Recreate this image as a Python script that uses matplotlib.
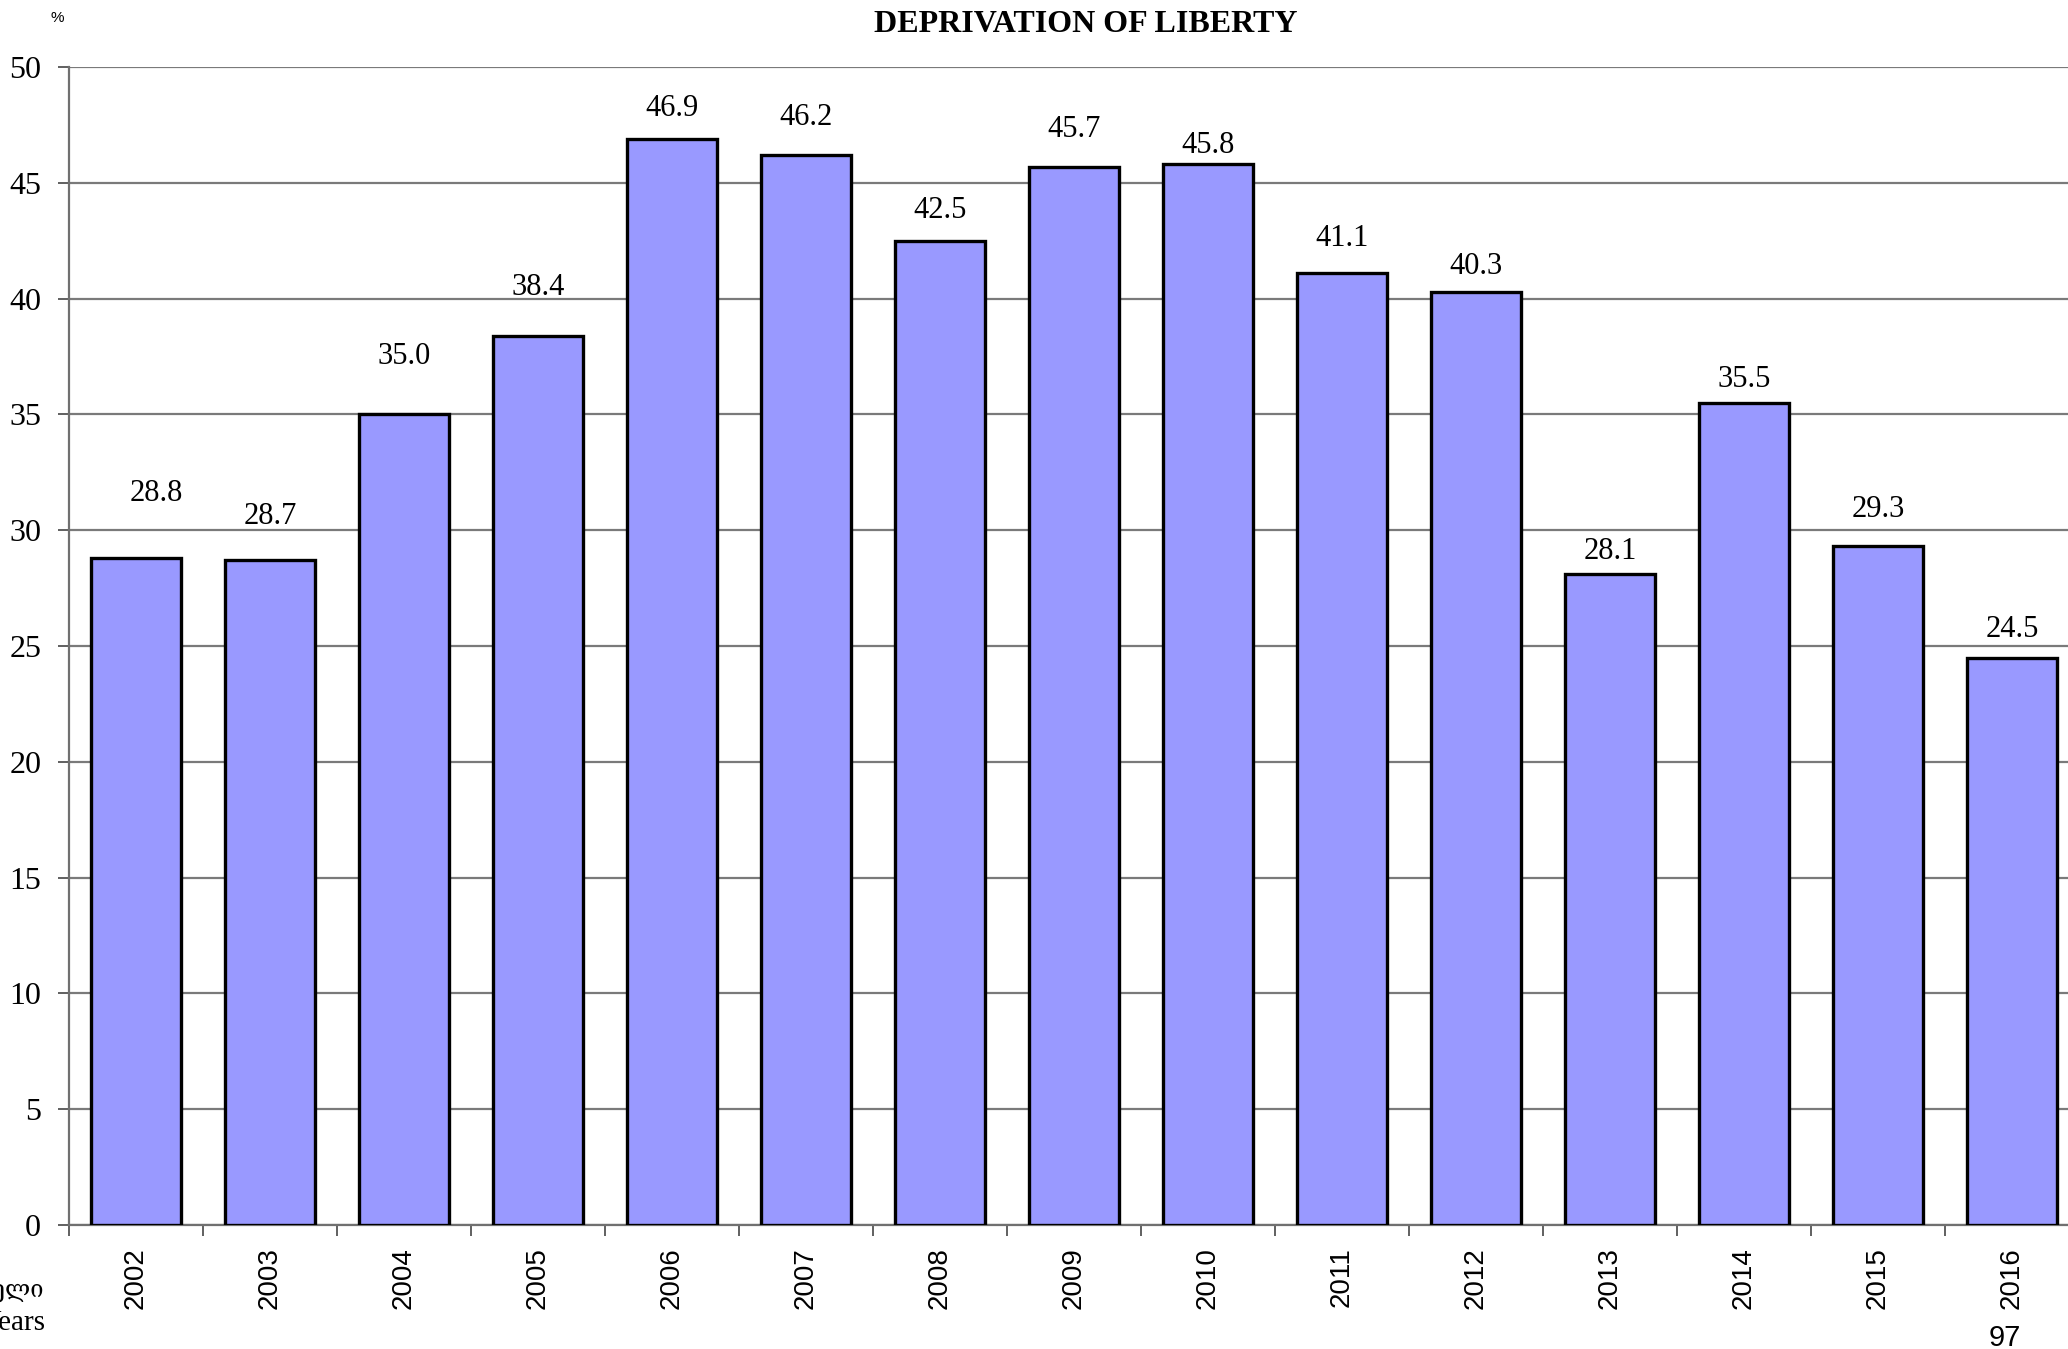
import matplotlib
matplotlib.use('Agg')
import matplotlib.pyplot as plt
import numpy as np

# data
years = ['2002', '2003', '2004', '2005', '2006', '2007', '2008', '2009',
         '2010', '2011', '2012', '2013', '2014', '2015', '2016']
share = [28.8, 28.7, 35.0, 38.4, 46.9, 46.2, 42.5, 45.7,
         45.8, 41.1, 40.3, 28.1, 35.5, 29.3, 24.5]
# gap between the bar top and its value label (percentage points)
label_gap = [2.8, 1.9, 2.5, 2.1, 1.3, 1.6, 1.3, 1.6,
             0.8, 1.5, 1.1, 1.0, 1.0, 1.6, 1.2]

W, H = 2068, 1349
fig = plt.figure(figsize=(W / 100, H / 100), dpi=100)
ax = fig.add_axes([69 / W, 124 / H, 2010 / W, 1158 / H])

serif = ['Liberation Serif', 'DejaVu Serif']
sans = ['Liberation Sans', 'DejaVu Sans']

x = np.arange(len(years))
ax.bar(x, share, width=0.67, color='#9999ff', edgecolor='black',
       linewidth=2.4, zorder=3)

for xi, v, g in zip(x, share, label_gap):
    dx = 0.15 if xi == 0 else 0.0
    ax.text(xi + dx, v + g, f'{v:.1f}', ha='center', va='center',
            fontsize=22, family=serif)

ax.set_xlim(-0.5, len(years) - 0.5)
ax.set_ylim(0, 50)
ax.set_yticks(np.arange(0, 51, 5))
ax.set_yticklabels([str(t) for t in range(0, 51, 5)], family=serif, fontsize=23)
ax.yaxis.grid(True, color='#7a7a7a', linewidth=1.6, zorder=0)

ax.set_xticks(np.arange(-0.5, len(years), 1.0))
ax.set_xticklabels([])
ax.set_xticks(x, minor=True)
ax.set_xticklabels(years, minor=True, rotation=90, family=sans, fontsize=20)
ax.tick_params(axis='x', which='minor', length=0, pad=16)
ax.tick_params(axis='x', which='major', length=8, width=1.4, color='#606060')
ax.tick_params(axis='y', length=8, width=1.4, color='#606060', pad=12)

for s in ['top', 'right']:
    ax.spines[s].set_visible(False)
for s in ['left', 'bottom']:
    ax.spines[s].set_color('#707070')
    ax.spines[s].set_linewidth(1.6)

fig.text(1086 / W, 1 - 24 / H, 'DEPRIVATION OF LIBERTY', ha='center',
         va='center', fontsize=23, fontweight='bold', family=serif)
fig.text(57 / W, 1 - 18 / H, '%', ha='center', va='center', fontsize=11,
         family=sans)
fig.text(44 / W, 1 - 1289 / H, 'წელი', ha='right', va='center',
         fontsize=17, family=serif)
fig.text(46 / W, 1 - 1323 / H, 'Years', ha='right', va='center',
         fontsize=21, family=serif)
fig.text(2005 / W, 1 - 1338 / H, '97', ha='center', va='center',
         fontsize=21, family=sans)

fig.savefig('out.png', dpi=100)
